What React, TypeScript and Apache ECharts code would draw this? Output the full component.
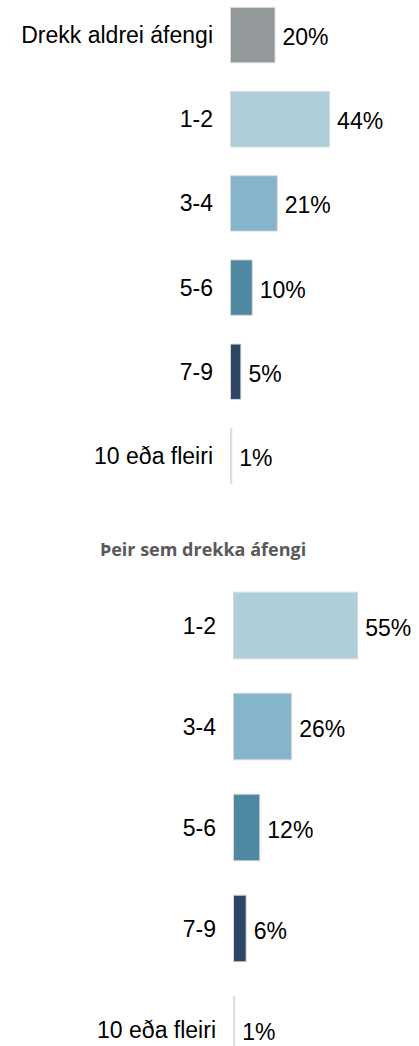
import React, { useEffect, useRef } from "react";
import * as echarts from "echarts";

const categoriesAll = ["Drekk aldrei áfengi", "1-2", "3-4", "5-6", "7-9", "10 eða fleiri"];
const valuesAll = [20, 44, 21, 10, 5, 1];
const colorsAll = ["#93999b", "#aecfd9", "#86b4cb", "#4e88a2", "#2e4566", "#ffffff"];

const categoriesDrinkers = ["1-2", "3-4", "5-6", "7-9", "10 eða fleiri"];
const valuesDrinkers = [55, 26, 12, 6, 1];
const colorsDrinkers = ["#aecfd9", "#86b4cb", "#4e88a2", "#2e4566", "#ffffff"];

const subtitle = "Þeir sem drekka áfengi";

const FONT = "'Liberation Sans', Arial, sans-serif";

export default function App() {
  const ref = useRef<HTMLDivElement>(null);
  useEffect(() => {
    document.body.style.margin = "0";
    if (!ref.current) return;
    const chart = echarts.init(ref.current, null, { renderer: "svg" });
    const axisLabel = {
      color: "#000",
      fontFamily: FONT,
      fontSize: 23,
      margin: 17,
      padding: [4, 0, 0, 0],
    };
    const mkY = (gridIndex: number, data: string[]) => ({
      type: "category",
      gridIndex,
      data,
      inverse: true,
      axisLine: { show: false },
      axisTick: { show: false },
      axisLabel,
    });
    const mkX = (gridIndex: number) => ({
      type: "value",
      gridIndex,
      min: 0,
      max: 80,
      show: false,
      splitLine: { show: false },
    });
    const mkSeries = (idx: number, values: number[], colors: string[]) => ({
      type: "bar",
      xAxisIndex: idx,
      yAxisIndex: idx,
      barCategoryGap: "33%",
      data: values.map((v, i) => ({
        value: v,
        itemStyle: { color: colors[i] },
      })),
      itemStyle: { borderColor: "#d9d9d9", borderWidth: 1 },
      label: {
        show: true,
        position: "right",
        distance: 7,
        formatter: "{c}%",
        color: "#000",
        fontFamily: FONT,
        fontSize: 23,
        offset: [0, 2],
      },
    });
    chart.setOption({
      animation: false,
      grid: [
        { left: 230, top: -7, width: 182, height: 505, outerBoundsMode: "none", containLabel: false },
        { left: 233, top: 575, width: 182, height: 505, outerBoundsMode: "none", containLabel: false },
      ],
      xAxis: [mkX(0), mkX(1)],
      yAxis: [mkY(0, categoriesAll), mkY(1, categoriesDrinkers)],
      series: [mkSeries(0, valuesAll, colorsAll), mkSeries(1, valuesDrinkers, colorsDrinkers)],
      graphic: [
        {
          type: "text",
          x: 203,
          y: 549,
          style: {
            text: subtitle,
            fontFamily: "'Open Sans', sans-serif",
            fontWeight: "bold",
            fontSize: 18,
            fill: "#595959",
            align: "center",
            verticalAlign: "middle",
          },
        },
      ],
    });
    return () => chart.dispose();
  }, []);
  return <div ref={ref} style={{ width: 419, height: 1046 }} />;
}
